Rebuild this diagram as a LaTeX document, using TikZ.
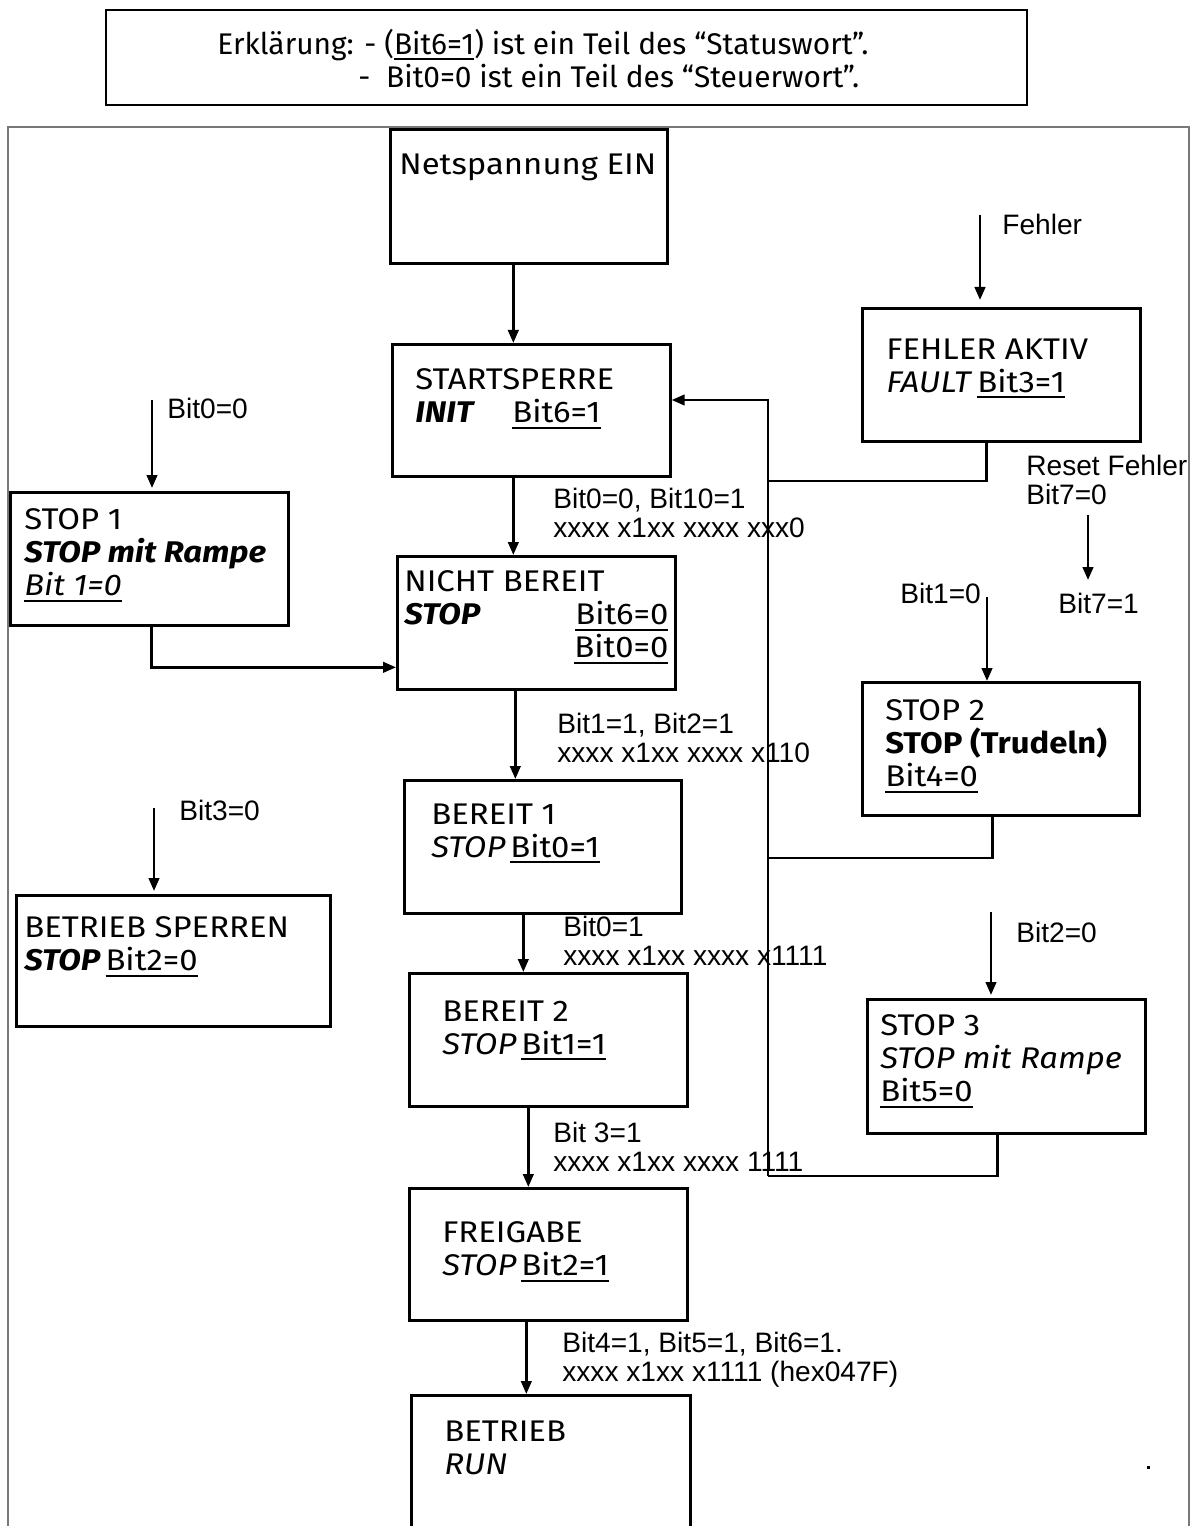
\documentclass[tikz,border=0pt]{standalone}
\usepackage{fontspec}
\setmainfont{Fira Sans}[FakeStretch=1.1]
\newfontfamily\legendfont{Fira Sans}
\newfontfamily\arialfont{Liberation Sans}
\usetikzlibrary{positioning,arrows.meta,calc}
\definecolor{framegray}{RGB}{120,120,120}
\newcommand{\bitul}[1]{\setbox0\hbox{#1}\rlap{\rule[-3.4pt]{\wd0}{1.2pt}}\box0}
\newcommand{\bfit}[1]{\textbf{\textit{#1}}}

\begin{document}
\begin{tikzpicture}[
    statebox/.style={rectangle, draw, line width=1.5pt, anchor=north west, inner sep=0pt},
    boxtext/.style={anchor=north west, inner sep=0pt, align=left, font=\fontsize{17}{18.8}\selectfont, execute at begin node={\rule{0pt}{4.5mm}}},
    bitlabel/.style={anchor=north west, inner sep=0pt, align=left, font=\arialfont\fontsize{16}{16.8}\selectfont, execute at begin node={\rule{0pt}{4.5mm}}},
    arrow/.style={-{Triangle[length=2.6mm, width=2.1mm]}, line width=1.5pt},
    wire/.style={line width=1.5pt}
    ]
    \useasboundingbox (0,0) rectangle (23.84,-30.52);

    % legend and outer frame
    \node[rectangle, draw, line width=1.1pt, anchor=north west, minimum width=18.42cm, minimum height=1.90cm] (legend) at (2.10,-0.18) {};
    \node[boxtext, font=\legendfont\fontsize{17}{18.8}\selectfont] (legend1) at (4.34,-0.57) {Erklärung: - (\bitul{Bit6=1}) ist ein Teil des “Statuswort”.};
    \node[boxtext, font=\legendfont\fontsize{17}{18.8}\selectfont] (legend2) at (7.16,-1.27) {- \ Bit0=0 ist ein Teil des “Steuerwort”.};
    \draw[framegray, line width=0.8pt] (0.16,-30.52) |- (23.78,-2.54) -- (23.78,-30.52);

    \node[statebox, minimum width=5.54cm, minimum height=2.68cm] (netz) at (7.78,-2.56) {};
    \node[statebox, minimum width=5.56cm, minimum height=2.64cm] (init) at (7.82,-6.86) {};
    \node[statebox, minimum width=5.56cm, minimum height=2.66cm] (nbereit) at (7.92,-11.10) {};
    \node[statebox, minimum width=5.54cm, minimum height=2.66cm] (bereit1) at (8.06,-15.58) {};
    \node[statebox, minimum width=5.56cm, minimum height=2.66cm] (bereit2) at (8.16,-19.44) {};
    \node[statebox, minimum width=5.56cm, minimum height=2.64cm] (freigabe) at (8.16,-23.74) {};
    \node[statebox, minimum width=5.58cm, minimum height=2.90cm] (betrieb) at (8.20,-27.88) {};
    \node[statebox, minimum width=5.56cm, minimum height=2.66cm] (stop1) at (0.18,-9.82) {};
    \node[statebox, minimum width=6.28cm, minimum height=2.62cm] (bsperren) at (0.30,-17.88) {};
    \node[statebox, minimum width=5.56cm, minimum height=2.66cm] (fehler) at (17.22,-6.14) {};
    \node[statebox, minimum width=5.54cm, minimum height=2.66cm] (stop2) at (17.22,-13.62) {};
    \node[statebox, minimum width=5.56cm, minimum height=2.68cm] (stop3) at (17.32,-19.96) {};

    \node[boxtext] (netz-t) at ([shift={(0.20,-0.47)}]netz.north west) {Netspannung EIN};
    \node[boxtext] (init-t) at ([shift={(0.48,-0.51)}]init.north west) {STARTSPERRE\\ \makebox[1.94cm][l]{\bfit{INIT}}\bitul{Bit6=1}};
    \node[boxtext] (nbereit-t) at ([shift={(0.16,-0.31)}]nbereit.north west) {NICHT BEREIT\\ \makebox[5.28cm][l]{\bfit{STOP}\hfill\bitul{Bit6=0}}\\ \makebox[5.28cm][r]{\bitul{Bit0=0}}};
    \node[boxtext] (bereit1-t) at ([shift={(0.56,-0.49)}]bereit1.north west) {BEREIT 1\\ \textit{STOP}\,\bitul{Bit0=1}};
    \node[boxtext] (bereit2-t) at ([shift={(0.68,-0.57)}]bereit2.north west) {BEREIT 2\\ \textit{STOP}\,\bitul{Bit1=1}};
    \node[boxtext] (freigabe-t) at ([shift={(0.68,-0.69)}]freigabe.north west) {FREIGABE\\ \textit{STOP}\,\bitul{Bit2=1}};
    \node[boxtext] (betrieb-t) at ([shift={(0.68,-0.53)}]betrieb.north west) {BETRIEB\\ \textit{RUN}};
    \node[boxtext] (stop1-t) at ([shift={(0.30,-0.35)}]stop1.north west) {STOP 1\\ \bfit{STOP mit Rampe}\\ \bitul{\textit{Bit 1=0}}};
    \node[boxtext] (bsperren-t) at ([shift={(0.18,-0.45)}]bsperren.north west) {BETRIEB SPERREN\\ \bfit{STOP}\,\bitul{Bit2=0}};
    \node[boxtext] (fehler-t) at ([shift={(0.50,-0.63)}]fehler.north west) {FEHLER AKTIV\\ \textit{FAULT}\,\bitul{Bit3=1}};
    \node[boxtext] (stop2-t) at ([shift={(0.48,-0.37)}]stop2.north west) {STOP 2\\ \textbf{STOP (Trudeln)}\\ \bitul{Bit4=0}};
    \node[boxtext] (stop3-t) at ([shift={(0.28,-0.33)}]stop3.north west) {STOP 3\\ \textit{STOP mit Rampe}\\ \bitul{Bit5=0}};

    \node[bitlabel] (fehler-l) at (20.04,-4.23) {Fehler};
    \node[bitlabel] (stop1-l) at (3.34,-7.91) {Bit0=0};
    \node[bitlabel] (bsperren-l) at (3.58,-15.95) {Bit3=0};
    \node[bitlabel] (stop2-l) at (18.00,-11.61) {Bit1=0};
    \node[bitlabel] (reset-l) at (20.52,-9.09) {Reset Fehler\\Bit7=0};
    \node[bitlabel] (reset2-l) at (21.16,-11.81) {Bit7=1};
    \node[bitlabel] (stop3-l) at (20.32,-18.39) {Bit2=0};
    \node[bitlabel] (init-l) at (11.06,-9.75) {Bit0=0, Bit10=1\\xxxx x1xx xxxx xxx0};
    \node[bitlabel] (nbereit-l) at (11.14,-14.25) {Bit1=1, Bit2=1\\xxxx x1xx xxxx x110};
    \node[bitlabel] (bereit1-l) at (11.26,-18.31) {Bit0=1\\xxxx x1xx xxxx x1111};
    \node[bitlabel] (bereit2-l) at (11.06,-22.43) {Bit 3=1\\xxxx x1xx xxxx 1111};
    \node[bitlabel] (freigabe-l) at (11.24,-26.63) {Bit4=1, Bit5=1, Bit6=1.\\xxxx x1xx x1111 (hex047F)};

    % main chain
    \draw[arrow] ([xshift=-0.31cm]netz.south) -- ([xshift=-0.31cm]netz.south |- init.north);
    \draw[arrow] ([xshift=-0.36cm]init.south) -- ([xshift=-0.36cm]init.south |- nbereit.north);
    \draw[arrow] ([xshift=-0.42cm]nbereit.south) -- ([xshift=-0.42cm]nbereit.south |- bereit1.north);
    \draw[arrow] ([xshift=-0.39cm]bereit1.south) -- ([xshift=-0.39cm]bereit1.south |- bereit2.north);
    \draw[arrow] ([xshift=-0.40cm]bereit2.south) -- ([xshift=-0.40cm]bereit2.south |- freigabe.north);
    \draw[arrow] ([xshift=-0.44cm]freigabe.south) -- ([xshift=-0.44cm]freigabe.south |- betrieb.north);
    \draw[arrow] ([xshift=0.04cm]stop1.south) |- ([yshift=-0.89cm]nbereit.west);

    % return line to STARTSPERRE
    \coordinate (bustop) at (15.36,-8.00);
    \coordinate (busf) at (15.36,-9.62);
    \coordinate (bus2) at (15.36,-17.16);
    \coordinate (bus3) at (15.36,-23.52);
    \draw[arrow] (bus3) -- (bustop) -- (bustop -| init.east);
    \draw[wire] ([xshift=-0.30cm]fehler.south) |- (busf);
    \draw[wire] ([xshift=-0.17cm]stop2.south) |- (bus2);
    \draw[wire] ([xshift=-0.18cm]stop3.south) |- (bus3);

    % incoming commands
    \coordinate (fehlerin) at (19.60,-4.30);
    \coordinate (stop1in) at (3.04,-8.00);
    \coordinate (bsperrenin) at (3.08,-16.16);
    \coordinate (stop2in) at (19.74,-11.94);
    \coordinate (stop3in) at (19.82,-18.24);
    \coordinate (resetA) at (21.76,-10.30);
    \coordinate (resetB) at (21.76,-11.60);
    \draw[arrow] (fehlerin) -- ([yshift=0.14cm]fehlerin |- fehler.north);
    \draw[arrow] (stop1in) -- ([yshift=0.06cm]stop1in |- stop1.north);
    \draw[arrow] (bsperrenin) -- ([yshift=0.06cm]bsperrenin |- bsperren.north);
    \draw[arrow] (stop2in) -- (stop2in |- stop2.north);
    \draw[arrow] (stop3in) -- ([yshift=0.06cm]stop3in |- stop3.north);
    \draw[arrow] (resetA) -- (resetB);

    \fill (22.94,-29.32) rectangle (23.00,-29.38);
\end{tikzpicture}
\end{document}
